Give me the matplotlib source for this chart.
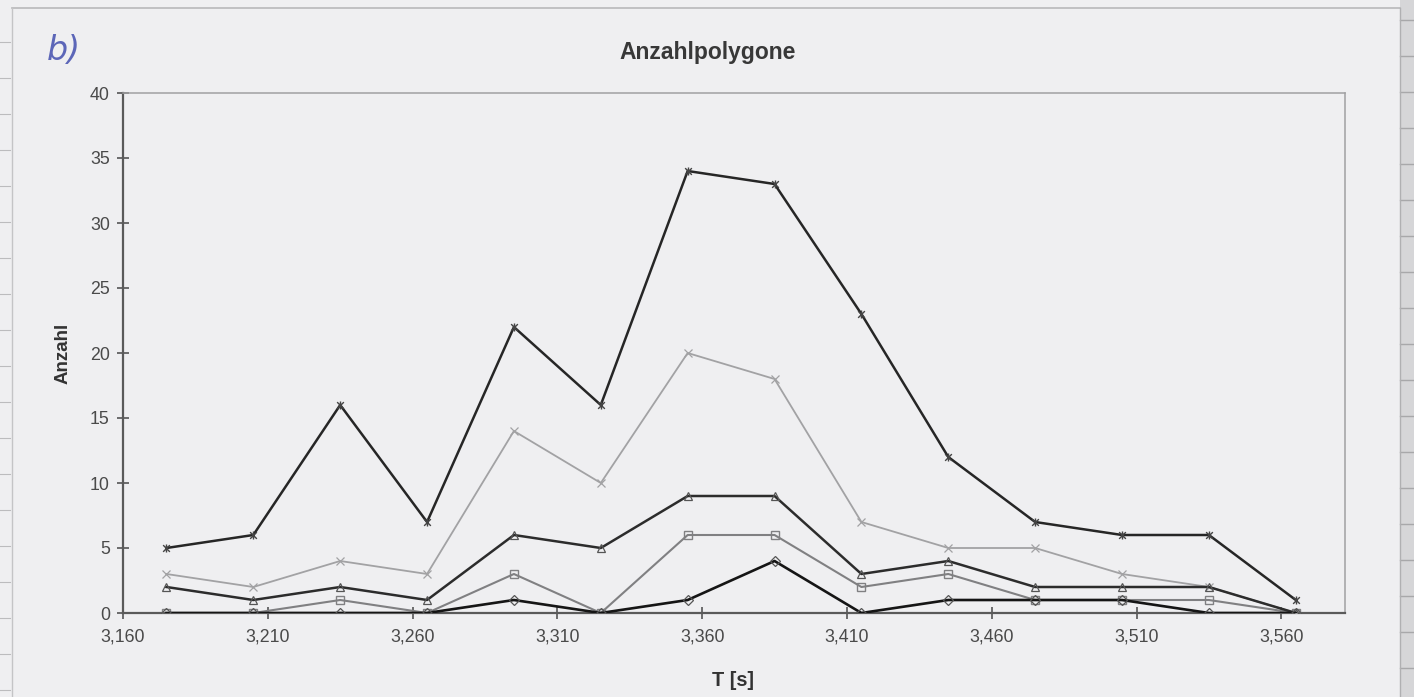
import matplotlib
matplotlib.use("Agg")
import matplotlib.pyplot as plt
from matplotlib.path import Path
from matplotlib.patches import Rectangle
from matplotlib.lines import Line2D
from matplotlib.ticker import FuncFormatter

plt.rcParams['font.family'] = ['Liberation Sans', 'DejaVu Sans']

# ---- data ----
t_values = [3.175, 3.205, 3.235, 3.265, 3.295, 3.325, 3.355,
            3.385, 3.415, 3.445, 3.475, 3.505, 3.535, 3.565]
series_diamond = [0, 0, 0, 0, 1, 0, 1, 4, 0, 1, 1, 1, 0, 0]
series_square = [0, 0, 1, 0, 3, 0, 6, 6, 2, 3, 1, 1, 1, 0]
series_triangle = [2, 1, 2, 1, 6, 5, 9, 9, 3, 4, 2, 2, 2, 0]
series_x = [3, 2, 4, 3, 14, 10, 20, 18, 7, 5, 5, 3, 2, 0]
series_star = [5, 6, 16, 7, 22, 16, 34, 33, 23, 12, 7, 6, 6, 1]
x_ticks = [3.160, 3.210, 3.260, 3.310, 3.360, 3.410, 3.460, 3.510, 3.560]
y_ticks = [0, 5, 10, 15, 20, 25, 30, 35, 40]

W, H = 1414, 697
fig = plt.figure(figsize=(W / 100, H / 100), dpi=100)
paper = '#efeff1'
fig.patch.set_facecolor(paper)

# graph-paper strips at the edges (scanned page)
fig.patches.append(Rectangle((1400 / W, 0), 14 / W, 1, transform=fig.transFigure,
                             facecolor='#d6d6d8', edgecolor='none', zorder=0))
for yy in range(20, H, 36):
    fig.lines.append(Line2D([1400 / W, 1], [1 - yy / H] * 2, transform=fig.transFigure,
                            color='#a8a8aa', lw=1.0, zorder=0.5))
    fig.lines.append(Line2D([0, 10 / W], [1 - (yy + 22) / H] * 2, transform=fig.transFigure,
                            color='#bcbcbe', lw=0.8, zorder=0.5))
# chart object frame
fig.lines.append(Line2D([12 / W, 1400 / W], [1 - 8 / H] * 2, transform=fig.transFigure,
                        color='#b8b8ba', lw=1.2))
fig.lines.append(Line2D([12 / W, 12 / W], [0, 1 - 8 / H], transform=fig.transFigure,
                        color='#c4c4c6', lw=1.0))
fig.lines.append(Line2D([1400 / W, 1400 / W], [0, 1 - 8 / H], transform=fig.transFigure,
                        color='#b0b0b2', lw=1.0))

left, right, top, bottom = 123, 1345, 93, 613
ax = fig.add_axes([left / W, 1 - bottom / H, (right - left) / W, (bottom - top) / H])
ax.set_facecolor(paper)

# star marker: x with vertical bar
star = Path([(-1, -1), (1, 1), (-1, 1), (1, -1), (0, -1.2), (0, 1.2)],
            [Path.MOVETO, Path.LINETO, Path.MOVETO, Path.LINETO, Path.MOVETO, Path.LINETO])

ms = 5.8
ax.plot(t_values, series_x, color='#a2a2a4', lw=1.3, marker='x', ms=ms, mew=0.9, zorder=3)
ax.plot(t_values, series_square, color='#808082', lw=1.5, marker='s', ms=ms,
        mfc='none', mec='#808082', mew=1.0, zorder=4)
ax.plot(t_values, series_triangle, color='#2c2c2c', lw=1.8, marker='^', ms=ms,
        mfc='none', mec='#555555', mew=0.9, zorder=5)
ax.plot(t_values, series_star, color='#262626', lw=1.8, marker=star, ms=ms, mew=1.0,
        mec='#444444', zorder=6)
ax.plot(t_values, series_diamond, color='#151515', lw=1.9, marker='D', ms=4.8,
        mfc='none', mec='#555555', mew=0.9, zorder=7)

ax.set_xlim(3.160, 3.582)
ax.set_ylim(0, 40)
ax.set_xticks(x_ticks)
ax.set_yticks(y_ticks)
ax.xaxis.set_major_formatter(FuncFormatter(lambda v, p: f"{v:.3f}".replace('.', ',')))
ax.tick_params(axis='both', direction='inout', length=9, width=1.2, color='#555555',
               labelsize=12.8, labelcolor='#4a4a4a')
ax.tick_params(axis='x', pad=7)
ax.tick_params(axis='y', pad=5)
for side in ['left', 'bottom']:
    ax.spines[side].set_color('#5a5a5a')
    ax.spines[side].set_linewidth(1.6)
for side in ['top', 'right']:
    ax.spines[side].set_color('#a0a0a2')
    ax.spines[side].set_linewidth(1.1)

fig.text(708 / W, 1 - 53 / H, 'Anzahlpolygone', ha='center', va='center',
         fontsize=16.5, fontweight='bold', color='#383838')
fig.text(733 / W, 1 - 680 / H, 'T [s]', ha='center', va='center',
         fontsize=14.3, fontweight='bold', color='#333333')
fig.text(63 / W, 1 - 353 / H, 'Anzahl', ha='center', va='center', rotation=90,
         fontsize=13.5, fontweight='bold', color='#333333')
fig.text(64 / W, 1 - 50 / H, 'b)', ha='center', va='center', fontsize=24,
         fontstyle='italic', color='#5c66b8', family=['DejaVu Sans'], fontweight='light')

fig.savefig('out.png', dpi=100, facecolor=fig.get_facecolor())
